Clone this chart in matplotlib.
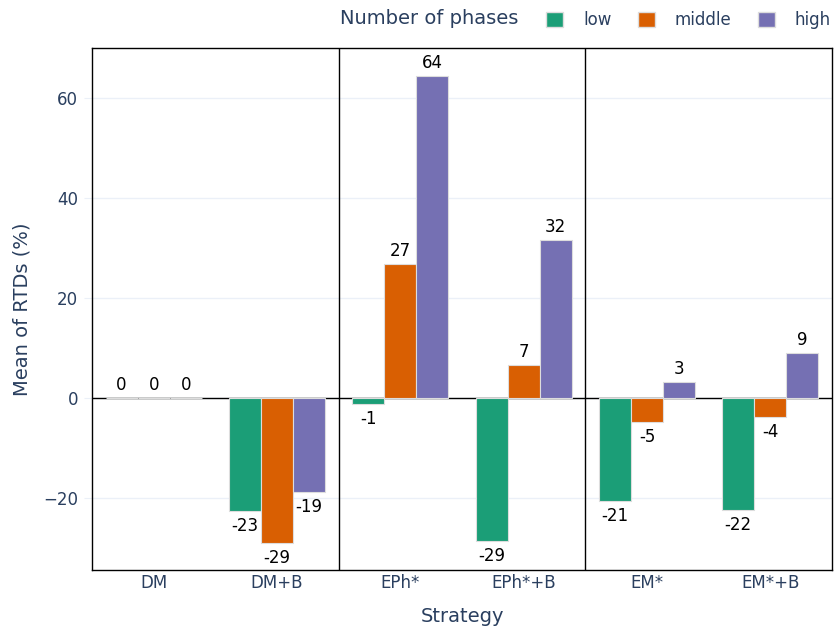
import numpy as np
import matplotlib
matplotlib.use('Agg')
import matplotlib.pyplot as plt
from matplotlib.patches import Patch

plt.rcParams['font.family'] = ['DejaVu Sans']

strategies = ['DM', 'DM+B', 'EPh*', 'EPh*+B', 'EM*', 'EM*+B']
phases = ['low', 'middle', 'high']
low = [0, -22.6, -1.2, -28.6, -20.6, -22.4]
middle = [0, -29.0, 26.8, 6.6, -4.8, -3.8]
high = [0, -18.8, 64.4, 31.6, 3.2, 9.0]
colors = ['#1b9e77', '#d95f02', '#7570b3']

title_col = '#2a3f5f'

fig = plt.figure(figsize=(8.35, 6.28), dpi=100)
ax = fig.add_axes([92 / 835, 1 - 570 / 628, 740 / 835, 522 / 628])

x = np.arange(len(strategies))
w = 0.26
for k, (vals, col) in enumerate(zip([low, middle, high], colors)):
    xs = x + (k - 1) * w
    ax.bar(xs, vals, width=w, color=col, edgecolor='#dddddd', linewidth=0.8, zorder=3)
    for xi, v in zip(xs, vals):
        lbl = '%d' % round(v)
        if v >= 0:
            ax.annotate(lbl, (xi, v), xytext=(0, 3), textcoords='offset points',
                        ha='center', va='bottom', fontsize=12, color='black')
        else:
            ax.annotate(lbl, (xi, v), xytext=(0, -4), textcoords='offset points',
                        ha='center', va='top', fontsize=12, color='black')

ax.axhline(0, color='black', lw=1, zorder=2)
for sep in [1.5, 3.5]:
    ax.axvline(sep, color='black', lw=1, zorder=4)

ax.set_xlim(-0.5, 5.5)
ax.set_ylim(-34.4, 70)
ax.set_yticks([-20, 0, 20, 40, 60])
ax.set_yticklabels(['\u221220', '0', '20', '40', '60'])
ax.set_xticks(x)
ax.set_xticklabels(strategies)
ax.grid(axis='y', color='#ebf0f8', lw=1, zorder=0)
ax.set_axisbelow(True)
ax.tick_params(axis='x', colors=title_col, labelsize=12, length=0, pad=3)
ax.tick_params(axis='y', colors=title_col, labelsize=12, length=6, color='#ebf0f8', pad=4)
for s in ax.spines.values():
    s.set_color('black')
    s.set_linewidth(1)

ax.set_xlabel('Strategy', fontsize=14, color=title_col, labelpad=11)
ax.set_ylabel('Mean of RTDs (%)', fontsize=14, color=title_col, labelpad=8)

fig.text(340 / 835, 1 - 19 / 628, 'Number of phases', fontsize=14, color=title_col,
         ha='left', va='center')
handles = [Patch(facecolor=c, edgecolor='#dddddd', label=p) for c, p in zip(colors, phases)]
leg = fig.legend(handles=handles, ncol=3, loc='center right',
                 bbox_to_anchor=(846 / 835, 1 - 20 / 628), frameon=False,
                 fontsize=12, handlelength=1.0, handleheight=1.0,
                 handletextpad=1.2, columnspacing=1.6)
for t in leg.get_texts():
    t.set_color(title_col)

fig.savefig('out.png', dpi=100)
